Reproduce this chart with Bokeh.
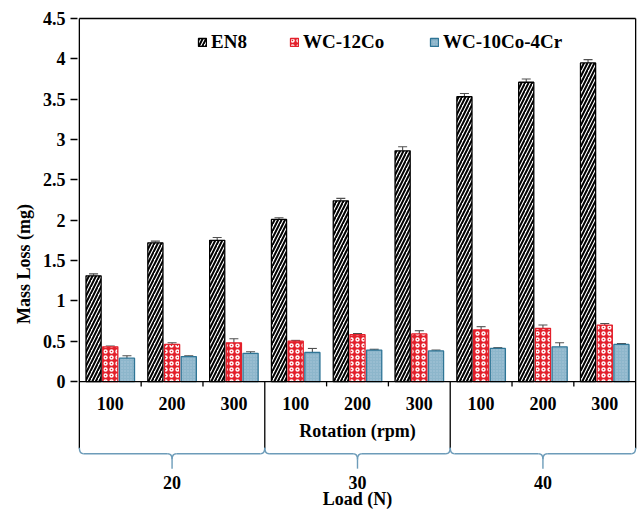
from bokeh.plotting import figure
from bokeh.models import (ColumnDataSource, Range1d, FixedTicker, Whisker, TeeHead,
                          Legend, LegendItem)
from bokeh.core.properties import value
from bokeh.embed import file_html
from bokeh.resources import INLINE

# ---------------- data ----------------
rpm_labels = ["100", "200", "300", "100", "200", "300", "100", "200", "300"]
load_labels = ["20", "30", "40"]
series_names = ["EN8", "WC-12Co", "WC-10Co-4Cr"]
en8 = [1.31, 1.72, 1.75, 2.01, 2.24, 2.86, 3.53, 3.71, 3.95]
en8_err = [0.025, 0.02, 0.035, 0.02, 0.03, 0.05, 0.04, 0.04, 0.04]
wc12co = [0.43, 0.46, 0.48, 0.50, 0.58, 0.59, 0.64, 0.66, 0.70]
wc12co_err = [0.01, 0.02, 0.05, 0.01, 0.015, 0.04, 0.04, 0.04, 0.02]
wc10co4cr = [0.29, 0.31, 0.35, 0.36, 0.39, 0.38, 0.41, 0.43, 0.46]
wc10co4cr_err = [0.03, 0.01, 0.02, 0.05, 0.01, 0.01, 0.01, 0.05, 0.01]
y_ticks = [0, 0.5, 1, 1.5, 2, 2.5, 3, 3.5, 4, 4.5]
y_tick_labels = ["0", "0.5", "1", "1.5", "2", "2.5", "3", "3.5", "4", "4.5"]
x_title = "Rotation (rpm)"
x2_title = "Load (N)"
y_title = "Mass Loss (mg)"

FONT = value("Liberation Serif")
n = len(rpm_labels)
centers = [i + 0.5 for i in range(n)]

p = figure(width=638, height=511, output_backend="svg", toolbar_location=None,
           x_range=Range1d(-0.03, 9.03), y_range=Range1d(-1.611, 4.525),
           x_axis_location=None, min_border_left=77, min_border_right=1,
           min_border_top=16, min_border_bottom=0)
p.background_fill_color = "white"
p.border_fill_color = "white"
p.outline_line_color = None
p.xgrid.visible = False
p.ygrid.visible = False

ax = p.yaxis[0]
ax.ticker = FixedTicker(ticks=y_ticks)
ax.major_label_overrides = {t: l for t, l in zip(y_ticks, y_tick_labels)}
ax.axis_line_color = None
ax.minor_tick_line_color = None
ax.major_tick_out = 7
ax.major_tick_in = 0
ax.major_tick_line_color = "black"
ax.major_tick_line_width = 1.3
ax.major_label_standoff = 5
ax.major_label_text_font = "Liberation Serif"
ax.major_label_text_font_style = "bold"
ax.major_label_text_font_size = "18px"
ax.major_label_text_color = "black"
ax.axis_label = y_title
ax.axis_label_text_font = "Liberation Serif"
ax.axis_label_text_font_style = "bold"
ax.axis_label_text_font_size = "18px"
ax.axis_label_text_color = "black"
ax.axis_label_standoff = 6

offs = [-0.27, 0.0, 0.27]
bw = 0.245
vals = [en8, wc12co, wc10co4cr]
errs = [en8_err, wc12co_err, wc10co4cr_err]

styles = [
    dict(fill_color="white", line_color="black", line_width=1.3,
         hatch_pattern="/", hatch_color="black", hatch_weight=2.0, hatch_scale=7),
    dict(fill_color="#e3202b", line_color="#e3202b", line_width=1.3,
         hatch_pattern="o", hatch_color="white", hatch_weight=1.4, hatch_scale=6),
    dict(fill_color="#8db6cb", line_color="#2f7596", line_width=1.3,
         hatch_pattern=".", hatch_color="#a9c8d8", hatch_weight=1.0, hatch_scale=3),
]

renderers = []
for k in range(3):
    xs = [c + offs[k] for c in centers]
    src = ColumnDataSource(dict(x=xs, top=vals[k],
                                upper=[v + e for v, e in zip(vals[k], errs[k])],
                                lower=[v - e for v, e in zip(vals[k], errs[k])]))
    r = p.vbar(x="x", top="top", bottom=0, width=bw, source=src, **styles[k])
    renderers.append(r)
    w = Whisker(base="x", upper="upper", lower="lower", source=src,
                line_color="#505050", line_width=1.1,
                upper_head=TeeHead(size=9, line_color="#505050", line_width=1.1),
                lower_head=TeeHead(size=9, line_color="#505050", line_width=1.1))
    p.add_layout(w)

# frame lines (top, right), y axis line and extended box edges
p.segment(x0=[0, 0, 9], y0=[4.5, -0.83, -0.83], x1=[9, 0, 9], y1=[4.5, 4.5, 4.5],
          line_color="black", line_width=1.3)
# x-axis baseline
p.segment(x0=[0], y0=[0], x1=[9], y1=[0], line_color="black", line_width=1.3)
# short ticks at inner category boundaries
short = [1, 2, 4, 5, 7, 8]
p.segment(x0=short, y0=[0] * 6, x1=short, y1=[-0.06] * 6, line_color="black", line_width=1.3)
# long separators between load groups
p.segment(x0=[3, 6], y0=[0, 0], x1=[3, 6], y1=[-0.83, -0.83], line_color="black", line_width=1.3)

# rpm labels
p.text(x=centers, y=[-0.27] * n, text=rpm_labels, text_font=FONT, text_font_style="bold",
       text_font_size="18px", text_align="center", text_baseline="middle", text_color="black")
p.text(x=[4.5], y=[-0.61], text=[x_title], text_font=FONT, text_font_style="bold",
       text_font_size="18px", text_align="center", text_baseline="middle", text_color="black")

# braces
bc = "#6d9cb9"
ytop, ybase, ytip = -0.82, -0.895, -1.08
r = 0.07
for g in range(3):
    x0, x1, xm = 3 * g + 0.0, 3 * g + 3.0, 3 * g + 1.5
    p.quadratic(x0=[x0, x1], y0=[ytop, ytop], x1=[x0 + r, x1 - r], y1=[ybase, ybase],
                cx=[x0, x1], cy=[ybase, ybase], line_color=bc, line_width=1.4)
    p.segment(x0=[x0 + r, xm + r], y0=[ybase, ybase], x1=[xm - r, x1 - r], y1=[ybase, ybase],
              line_color=bc, line_width=1.4)
    p.quadratic(x0=[xm - r, xm + r], y0=[ybase, ybase], x1=[xm, xm], y1=[ybase - 0.07, ybase - 0.07],
                cx=[xm, xm], cy=[ybase, ybase], line_color=bc, line_width=1.4)
    p.segment(x0=[xm], y0=[ybase - 0.07], x1=[xm], y1=[ytip], line_color=bc, line_width=1.4)

p.text(x=[1.5, 4.5, 7.5], y=[-1.252] * 3, text=load_labels, text_font=FONT, text_font_style="bold",
       text_font_size="18px", text_align="center", text_baseline="middle", text_color="black")
p.text(x=[4.5], y=[-1.455], text=[x2_title], text_font=FONT, text_font_style="bold",
       text_font_size="18px", text_align="center", text_baseline="middle", text_color="black")

# legends (three entries placed like the reference)
leg_x = [120, 212, 352]
for k in range(3):
    lg = Legend(items=[LegendItem(label=series_names[k], renderers=[renderers[k]])],
                location=(leg_x[k], 458), orientation="horizontal",
                border_line_color=None, background_fill_alpha=0,
                padding=0, margin=0, glyph_width=10, glyph_height=10,
                label_standoff=4, label_text_font="Liberation Serif",
                label_text_font_style="bold", label_text_font_size="19px",
                label_text_color="black", label_height=20)
    p.add_layout(lg)

open("out.html", "w").write(file_html(p, INLINE))
